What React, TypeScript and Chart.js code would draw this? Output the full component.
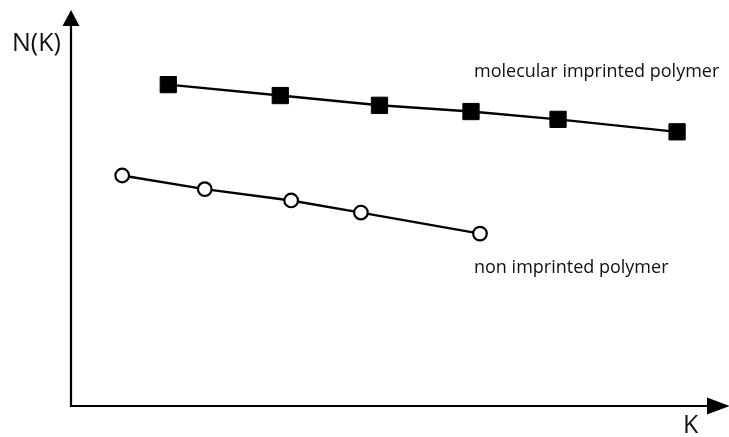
import React, { useEffect, useRef } from "react";
import { Chart, registerables } from "chart.js";

Chart.register(...registerables);

// K values (arbitrary units along the horizontal axis)
const mipK = [1.52, 3.27, 4.82, 6.25, 7.61, 9.47];
const mipN = [8.24, 7.96, 7.71, 7.55, 7.35, 7.03];
const nipK = [0.8, 2.09, 3.44, 4.53, 6.39];
const nipN = [5.91, 5.56, 5.27, 4.96, 4.42];

const mipLabel = "molecular imprinted polymer";
const nipLabel = "non imprinted polymer";
const yAxisLabel = "N(K)";
const xAxisLabel = "K";

const FONT = "'Open Sans', 'Noto Sans', sans-serif";

const axesPlugin = {
  id: "arrowAxes",
  beforeDatasetsDraw(chart: any) {
    const { ctx, chartArea } = chart;
    const { left, right, top, bottom } = chartArea;
    ctx.save();
    ctx.strokeStyle = "#000";
    ctx.fillStyle = "#000";
    ctx.lineWidth = 2.2;
    // y axis
    ctx.beginPath();
    ctx.moveTo(left, bottom + 1);
    ctx.lineTo(left, top + 4);
    ctx.stroke();
    ctx.beginPath();
    ctx.moveTo(left, top - 6);
    ctx.lineTo(left - 8.5, top + 10);
    ctx.lineTo(left + 8.5, top + 10);
    ctx.closePath();
    ctx.fill();
    // x axis
    ctx.beginPath();
    ctx.moveTo(left - 1, bottom);
    ctx.lineTo(right + 2, bottom);
    ctx.stroke();
    ctx.beginPath();
    ctx.moveTo(right + 19, bottom);
    ctx.lineTo(right - 4, bottom - 8.5);
    ctx.lineTo(right - 4, bottom + 8.5);
    ctx.closePath();
    ctx.fill();

    // axis labels
    ctx.textBaseline = "alphabetic";
    ctx.textAlign = "left";
    ctx.font = `25px ${FONT}`;
    ctx.fillStyle = "#111";
    ctx.fillText(yAxisLabel, left - 59, top + 35);
    ctx.fillText(xAxisLabel, right - 28, bottom + 27);

    // series labels
    ctx.font = `18px ${FONT}`;
    ctx.fillText(mipLabel, left + 403, top + 61);
    ctx.fillText(nipLabel, left + 403, top + 257);
    ctx.restore();
  },
};

export default function App() {
  const ref = useRef<HTMLCanvasElement>(null);
  useEffect(() => {
    document.body.style.margin = "0";
    const chart = new Chart(ref.current!, {
      type: "scatter",
      data: {
        datasets: [
          {
            label: mipLabel,
            data: mipK.map((k, i) => ({ x: k, y: mipN[i] })),
            showLine: true,
            borderColor: "#000",
            borderWidth: 2.4,
            pointStyle: "rect",
            pointRadius: 11.5,
            pointBackgroundColor: "#000",
            pointBorderColor: "#000",
            pointBorderWidth: 1,
          },
          {
            label: nipLabel,
            data: nipK.map((k, i) => ({ x: k, y: nipN[i] })),
            showLine: true,
            borderColor: "#000",
            borderWidth: 2.4,
            pointStyle: "circle",
            pointRadius: 6.8,
            pointBackgroundColor: "#fff",
            pointBorderColor: "#000",
            pointBorderWidth: 2.2,
          },
        ],
      },
      options: {
        responsive: false,
        animation: false,
        layout: { padding: { left: 71, right: 18, top: 16, bottom: 31 } },
        scales: {
          x: { type: "linear", min: 0, max: 10, display: false },
          y: { type: "linear", min: 0, max: 10, display: false },
        },
        plugins: {
          legend: { display: false },
          tooltip: { enabled: false },
        },
      },
      plugins: [axesPlugin],
    });
    return () => chart.destroy();
  }, []);
  return (
    <div style={{ width: 729, height: 437, background: "#fff" }}>
      <canvas ref={ref} width={729} height={437} />
    </div>
  );
}
